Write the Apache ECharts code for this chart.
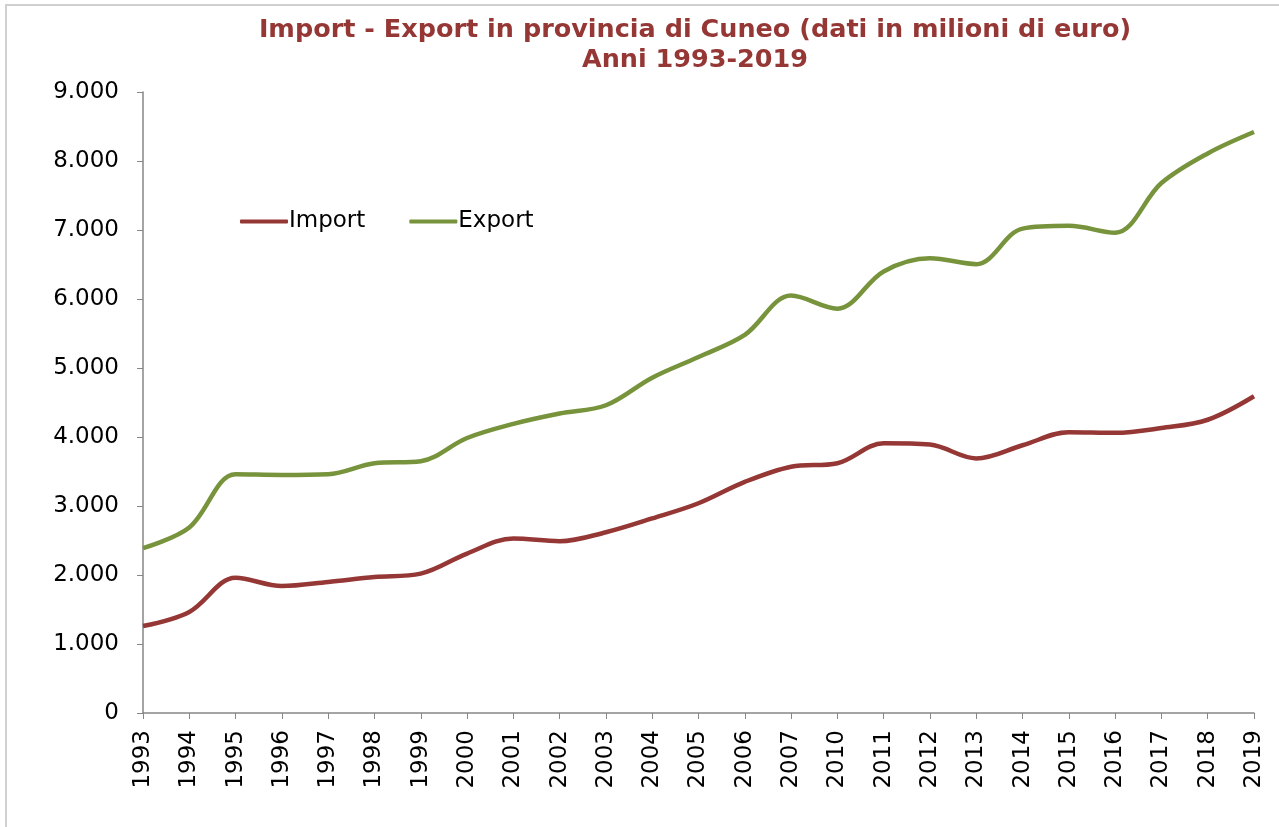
<!DOCTYPE html>
<html>
<head>
<meta charset="utf-8">
<script src="https://cdn.jsdelivr.net/npm/echarts@6/dist/echarts.min.js"></script>
<style>
  html, body { margin: 0; padding: 0; background: #fff; }
  #chart { width: 1279px; height: 827px; }
</style>
</head>
<body>
<div id="chart"></div>
<script>
// anni (2008 e 2009 non presenti nel grafico)
var years = ['1993','1994','1995','1996','1997','1998','1999','2000','2001','2002','2003','2004','2005','2006','2007',
             '2010','2011','2012','2013','2014','2015','2016','2017','2018','2019'];
var importData = [1260, 1465, 1960, 1840, 1900, 1970, 2020, 2310, 2530, 2490, 2620, 2820, 3040, 3350, 3570,
                  3620, 3910, 3890, 3690, 3880, 4070, 4060, 4130, 4250, 4590];
var exportData = [2390, 2690, 3460, 3450, 3460, 3620, 3650, 3985, 4190, 4340, 4460, 4860, 5160, 5480, 6050,
                  5860, 6400, 6590, 6505, 7020, 7060, 6960, 7680, 8110, 8420];
var seriesNames = ['Import', 'Export'];
var seriesColors = ['#953735', '#77933C'];

var chart = echarts.init(document.getElementById('chart'));

// separatore migliaia all'italiana
function fmtIt(v) {
  return String(v).replace(/\B(?=(\d{3})+(?!\d))/g, '.');
}

var option = {
  animation: false,
  textStyle: { fontFamily: 'DejaVu Sans' },
  title: {
    text: 'Import - Export in provincia di Cuneo (dati in milioni di euro)\nAnni 1993-2019',
    left: 690,
    textAlign: 'center',
    top: 10,
    textStyle: {
      color: '#953735',
      fontSize: 25.5,
      fontWeight: 'bold',
      fontFamily: 'DejaVu Sans',
      lineHeight: 30
    }
  },
  graphic: [{
    type: 'rect',
    shape: { x: 6, y: 5, width: 1300, height: 850 },
    style: { fill: 'none', stroke: '#d0d0d0', lineWidth: 2 },
    silent: true
  }],
  legend: {
    left: 235,
    top: 205,
    itemWidth: 48,
    itemHeight: 4,
    itemGap: 44,
    icon: 'roundRect',
    textStyle: { fontSize: 23, color: '#000', padding: [0, 0, 0, -4] },
    data: seriesNames
  },
  grid: { left: 143, right: 25, top: 92, bottom: 114 },
  xAxis: {
    type: 'category',
    data: years,
    boundaryGap: false,
    axisLine: { lineStyle: { color: '#868686', width: 1.5 } },
    axisTick: { alignWithLabel: true, length: 6, lineStyle: { color: '#868686' } },
    axisLabel: { rotate: 90, fontSize: 23, color: '#000', margin: 17, interval: 0 },
    splitLine: { show: false }
  },
  yAxis: {
    type: 'value',
    min: 0,
    max: 9000,
    interval: 1000,
    axisLine: { show: true, lineStyle: { color: '#868686', width: 1.5 } },
    axisTick: { show: true, length: 6, lineStyle: { color: '#868686' } },
    axisLabel: { fontSize: 23, color: '#000', margin: 24, formatter: fmtIt },
    splitLine: { show: false }
  },
  series: [
    {
      name: seriesNames[0],
      type: 'line',
      data: importData,
      smooth: 0.35,
      showSymbol: false,
      lineStyle: { width: 4.5, color: seriesColors[0] },
      itemStyle: { color: seriesColors[0] }
    },
    {
      name: seriesNames[1],
      type: 'line',
      data: exportData,
      smooth: 0.35,
      showSymbol: false,
      lineStyle: { width: 4.5, color: seriesColors[1] },
      itemStyle: { color: seriesColors[1] }
    }
  ]
};

chart.setOption(option);
</script>
</body>
</html>
